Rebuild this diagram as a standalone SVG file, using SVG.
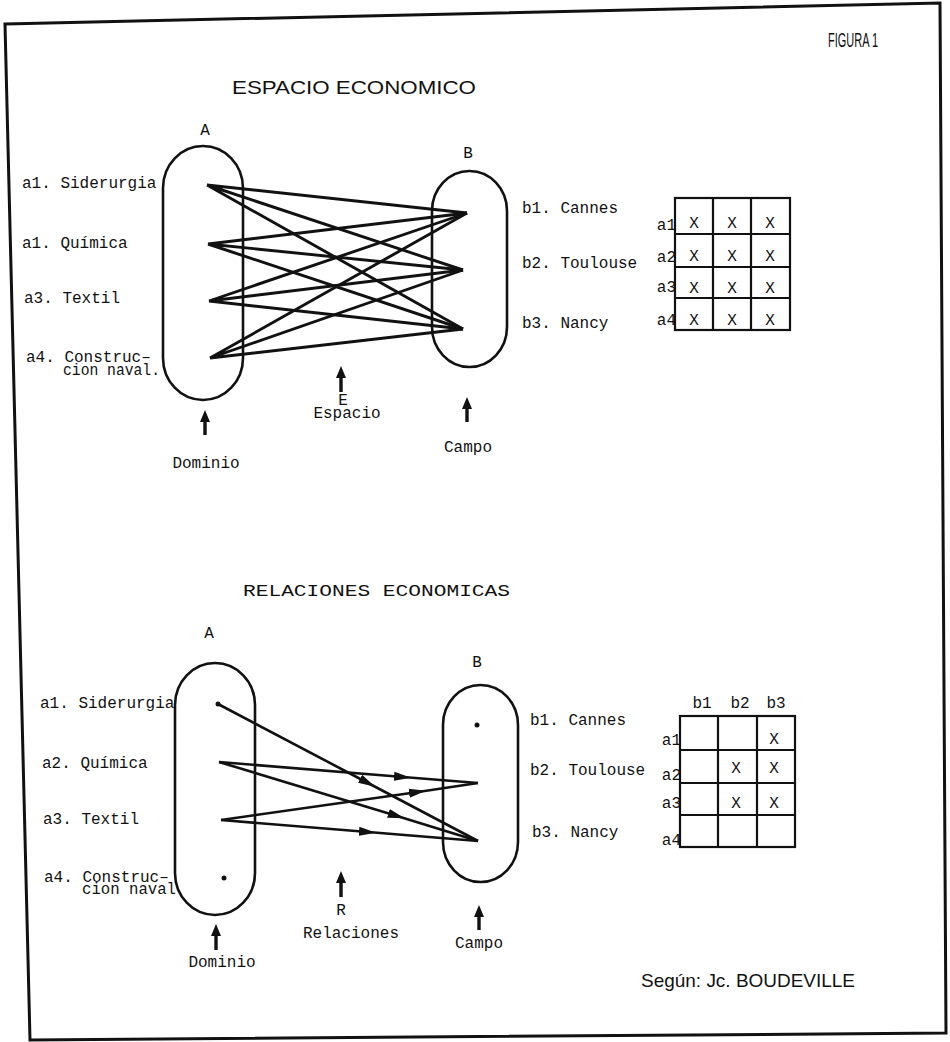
<svg xmlns="http://www.w3.org/2000/svg" width="950" height="1042" viewBox="0 0 950 1042">
<style>
.t{font-family:"Liberation Mono","DejaVu Sans Mono",monospace;font-size:16px;fill:#111}
.s{font-family:"Liberation Sans Narrow","Liberation Sans","DejaVu Sans Condensed",sans-serif;fill:#111}
.m{text-anchor:middle}
.e{text-anchor:end}
.pill{fill:none;stroke:#111;stroke-width:2.6}
.ln{fill:none;stroke:#111;stroke-width:2.9}
.grid{fill:none;stroke:#111;stroke-width:2.2}
.up{stroke:#111;stroke-width:3.4;marker-end:url(#upHead)}
.rel{fill:none;stroke:#111;stroke-width:2.6;marker-mid:url(#midHead)}
.dot{fill:#111}
</style>
<defs>
<marker id="upHead" markerWidth="12" markerHeight="11" refX="1" refY="5.5" orient="auto" markerUnits="userSpaceOnUse" viewBox="0 0 12 11">
<path d="M0,0.5 L12,5.5 L0,10.5 Z" fill="#111"/>
</marker>
<marker id="midHead" markerWidth="17" markerHeight="10" refX="9" refY="5" orient="auto" markerUnits="userSpaceOnUse" viewBox="0 0 17 10">
<path d="M0,0.5 L17,5 L0,9.5 Z" fill="#111"/>
</marker>
</defs>
<rect x="0" y="0" width="950" height="1042" fill="#fff"/>
<polygon points="5,24 940,3 946,1033 30,1040" fill="none" stroke="#111" stroke-width="3"/>

<text class="s" x="828" y="47" textLength="50" lengthAdjust="spacingAndGlyphs" font-size="21">FIGURA 1</text>
<text class="s" x="232" y="94" textLength="244" lengthAdjust="spacingAndGlyphs" font-size="18">ESPACIO ECONOMICO</text>

<!-- Top diagram -->
<g id="top-A">
<text class="t m" x="205" y="135">A</text>
<rect class="pill" x="163" y="146" width="80" height="254" rx="40" ry="42"/>
</g>
<g id="top-A-labels">
<text class="t" x="22" y="188">a1. Siderurgia</text>
<text class="t" x="22" y="248">a1. Química</text>
<text class="t" x="24" y="303">a3. Textil</text>
<text class="t" x="26" y="362">a4. Construc–</text>
<text class="t" x="63" y="375" textLength="97" lengthAdjust="spacingAndGlyphs">cion naval.</text>
</g>
<g id="top-B">
<text class="t m" x="468" y="158">B</text>
<rect class="pill" x="432" y="171" width="75" height="196" rx="37.5" ry="40"/>
</g>
<g id="top-B-labels">
<text class="t" x="522" y="213">b1. Cannes</text>
<text class="t" x="522" y="268">b2. Toulouse</text>
<text class="t" x="522" y="328">b3. Nancy</text>
</g>
<g id="top-matrix">
<rect class="grid" x="675" y="198" width="115" height="132"/>
<path class="grid" d="M713,198V330M751,198V330M675,234H790M675,267H790M675,298H790"/>
<text class="t e" x="676" y="230">a1</text>
<text class="t e" x="676" y="262">a2</text>
<text class="t e" x="676" y="292">a3</text>
<text class="t e" x="676" y="325">a4</text>
<g class="t m">
<text x="694" y="228">X</text><text x="732" y="228">X</text><text x="770" y="228">X</text>
<text x="694" y="261">X</text><text x="732" y="261">X</text><text x="770" y="261">X</text>
<text x="694" y="293">X</text><text x="732" y="293">X</text><text x="770" y="293">X</text>
<text x="694" y="325">X</text><text x="732" y="325">X</text><text x="770" y="325">X</text>
</g>
</g>
<g id="top-pointers">
<line class="up" x1="205" y1="435" x2="205" y2="421"/>
<text class="t m" x="206" y="468">Dominio</text>
<line class="up" x1="341" y1="392" x2="341" y2="377"/>
<text class="t m" x="343" y="405">E</text>
<text class="t m" x="347" y="418">Espacio</text>
<line class="up" x1="467" y1="422" x2="467" y2="408"/>
<text class="t m" x="468" y="452">Campo</text>
</g>
<g id="top-connectors">
<path class="ln" d="M207,185L467,213M207,185L463,270M207,185L463,329"/>
<path class="ln" d="M208,244L467,213M208,244L463,270M208,244L463,329"/>
<path class="ln" d="M209,301L467,213M209,301L463,270M209,301L463,329"/>
<path class="ln" d="M210,358L467,213M210,358L463,270M210,358L463,329"/>
</g>

<!-- Bottom diagram -->
<text class="t" x="243" y="596" textLength="267" lengthAdjust="spacingAndGlyphs">RELACIONES ECONOMICAS</text>
<g id="bottom-A">
<text class="t m" x="209" y="638">A</text>
<rect class="pill" x="175" y="663" width="80" height="252" rx="40" ry="42"/>
<circle class="dot" cx="218" cy="704" r="2.5"/>
<circle class="dot" cx="224" cy="878" r="2.5"/>
</g>
<g id="bottom-A-labels">
<text class="t" x="40" y="708">a1. Siderurgia</text>
<text class="t" x="42" y="768">a2. Química</text>
<text class="t" x="43" y="824">a3. Textil</text>
<text class="t" x="44" y="882">a4. Construc–</text>
<text class="t" x="82" y="894" textLength="94" lengthAdjust="spacingAndGlyphs">cion naval</text>
</g>
<g id="bottom-B">
<text class="t m" x="477" y="667">B</text>
<rect class="pill" x="443" y="685" width="75" height="197" rx="37.5" ry="40"/>
<circle class="dot" cx="477" cy="725" r="2.5"/>
</g>
<g id="bottom-B-labels">
<text class="t" x="530" y="725">b1. Cannes</text>
<text class="t" x="530" y="775">b2. Toulouse</text>
<text class="t" x="532" y="837">b3. Nancy</text>
</g>
<g id="bottom-matrix">
<rect class="grid" x="680" y="716" width="115" height="131"/>
<path class="grid" d="M718,716V847M757,716V847M680,750H795M680,783H795M680,815H795"/>
<text class="t m" x="702" y="708">b1</text>
<text class="t m" x="740" y="708">b2</text>
<text class="t m" x="776" y="708">b3</text>
<text class="t e" x="681" y="745">a1</text>
<text class="t e" x="681" y="780">a2</text>
<text class="t e" x="681" y="808">a3</text>
<text class="t e" x="681" y="845">a4</text>
<g class="t m">
<text x="774" y="744">X</text>
<text x="736" y="773">X</text><text x="774" y="773">X</text>
<text x="736" y="808">X</text><text x="774" y="808">X</text>
</g>
</g>
<g id="bottom-pointers">
<line class="up" x1="216" y1="950" x2="216" y2="935"/>
<text class="t m" x="222" y="967">Dominio</text>
<line class="up" x1="341" y1="897" x2="341" y2="882"/>
<text class="t m" x="341" y="915">R</text>
<text class="t m" x="351" y="938">Relaciones</text>
<line class="up" x1="479" y1="930" x2="479" y2="916"/>
<text class="t m" x="479" y="948">Campo</text>
</g>
<g id="bottom-connectors">
<path class="rel" d="M218,704L368,783L478,841"/>
<path class="rel" d="M219,762L403,777L478,783"/>
<path class="rel" d="M219,762L397,816L478,841"/>
<path class="rel" d="M221,820L418,792L478,783"/>
<path class="rel" d="M221,820L368,832L478,841"/>
</g>

<text class="s" x="641" y="987" textLength="214" lengthAdjust="spacingAndGlyphs" font-size="19">Según: Jc. BOUDEVILLE</text>
</svg>
